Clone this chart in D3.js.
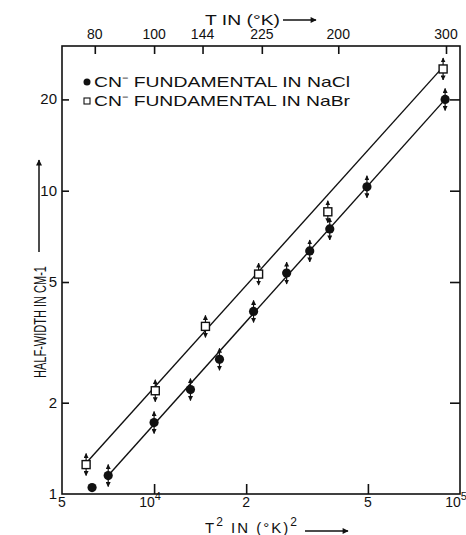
<!DOCTYPE html>
<html lang="en">
<head>
<meta charset="UTF-8">
<title>CN- fundamental half-width</title>
<style>
  body { margin: 0; background: #fff; }
  svg text { font-family: "Liberation Sans", Arial, sans-serif; fill: #111; }
</style>
</head>
<body>
<div id="chart"></div>
<script src="https://d3js.org/d3.v7.min.js"></script>
<script>
// CN- in NaCl (filled circles); bars = 1 when the point carries error arrows
const naclT2   = [6270, 7080, 10000, 13150, 16360, 21140, 27120, 32270, 37520, 49640, 89400];
const naclW    = [1.05, 1.15, 1.72, 2.21, 2.78, 4.0, 5.35, 6.33, 7.48, 10.3, 20.0];
const naclBars = [0, 1, 1, 1, 1, 1, 1, 1, 1, 1, 1];

// CN- in NaBr (open squares)
const nabrT2 = [5995, 10090, 14720, 21960, 36980, 88060];
const nabrW  = [1.25, 2.19, 3.57, 5.31, 8.52, 25.2];

// straight fit lines drawn through each set
const naclFitT2 = [7080, 91400];
const naclFitW  = [1.15, 20.5];
const nabrFitT2 = [6100, 88000];
const nabrFitW  = [1.29, 25.6];

// axis ticks
const bottomTicks  = [5000, 10000, 20000, 50000, 100000];
const bottomLabels = [["5", ""], ["10", "4"], ["2", ""], ["5", ""], ["10", "5"]];
const yTicks  = [1, 2, 5, 10, 20];
const yLabels = ["1", "2", "5", "10", "20"];
const topT      = [80, 100, 120, 150, 200, 300];
const topLabels = ["80", "100", "144", "225", "200", "300"];

const legendNames = ["CN\u207B FUNDAMENTAL IN NaCl", "CN\u207B FUNDAMENTAL IN NaBr"];

const W = 466, H = 535;
const m = { left: 62, right: 6, top: 46, bottom: 41 };

const svg = d3.select("#chart").append("svg")
    .attr("width", W).attr("height", H);

const x = d3.scaleLog().domain([5000, 100000]).range([m.left, W - m.right]);
const y = d3.scaleLog().domain([1, 30]).range([H - m.bottom, m.top]);

// frame
svg.append("rect")
    .attr("x", x.range()[0]).attr("y", y.range()[1])
    .attr("width", x.range()[1] - x.range()[0])
    .attr("height", y.range()[0] - y.range()[1])
    .attr("fill", "none").attr("stroke", "#111").attr("stroke-width", 1.6);

function styleAxis(g) {
    g.select(".domain").remove();
    g.selectAll(".tick line").attr("stroke", "#111").attr("stroke-width", 1.6);
    g.selectAll(".tick text").remove();
}

svg.append("g").attr("transform", `translate(0,${y.range()[0]})`)
    .call(d3.axisBottom(x).tickValues(bottomTicks.slice(1, -1)).tickSize(-10).tickSizeOuter(0))
    .call(styleAxis);

svg.append("g").attr("transform", `translate(0,${y.range()[1]})`)
    .call(d3.axisTop(x).tickValues(topT.map(t => t * t)).tickSize(-8).tickSizeOuter(0))
    .call(styleAxis);

svg.append("g").attr("transform", `translate(${x.range()[0]},0)`)
    .call(d3.axisLeft(y).tickValues(yTicks.slice(1)).tickSize(-7).tickSizeOuter(0))
    .call(styleAxis);

svg.append("g").attr("transform", `translate(${x.range()[1]},0)`)
    .call(d3.axisRight(y).tickValues(yTicks.slice(1)).tickSize(-10).tickSizeOuter(0))
    .call(styleAxis);

// bottom tick labels
const bl = svg.append("g").selectAll("text").data(bottomTicks).join("text")
    .attr("x", (d, i) => x(d) - (bottomLabels[i][1] ? 4 : 0))
    .attr("y", H - m.bottom + 13)
    .attr("text-anchor", "middle")
    .style("font-size", "14px");
bl.append("tspan").text((d, i) => bottomLabels[i][0]);
bl.append("tspan").attr("dy", -7).style("font-size", "11px").text((d, i) => bottomLabels[i][1]);

// left tick labels
svg.append("g").selectAll("text").data(yTicks).join("text")
    .attr("x", m.left - 5)
    .attr("y", d => y(d) + 5)
    .attr("text-anchor", "end")
    .style("font-size", "15px")
    .text((d, i) => yLabels[i]);

// top tick labels
svg.append("g").selectAll("text").data(topT).join("text")
    .attr("x", d => x(d * d))
    .attr("y", 39)
    .attr("text-anchor", "middle")
    .style("font-size", "14px")
    .text((d, i) => topLabels[i]);

// arrow marker for titles
const defs = svg.append("defs");
defs.append("marker").attr("id", "head").attr("viewBox", "0 0 10 10")
    .attr("refX", 9).attr("refY", 5).attr("markerWidth", 8).attr("markerHeight", 6)
    .attr("markerUnits", "userSpaceOnUse").attr("orient", "auto")
    .append("path").attr("d", "M0,0L10,5L0,10Z").attr("fill", "#111");
defs.append("marker").attr("id", "tip").attr("viewBox", "0 0 10 10")
    .attr("refX", 9).attr("refY", 5).attr("markerWidth", 5).attr("markerHeight", 5)
    .attr("markerUnits", "userSpaceOnUse").attr("orient", "auto")
    .append("path").attr("d", "M0,0L10,5L0,10Z").attr("fill", "#111");

// top title
svg.append("text").attr("x", 205).attr("y", 25)
    .attr("textLength", 75).attr("lengthAdjust", "spacingAndGlyphs")
    .style("font-size", "15px")
    .text("T  IN (\u00B0K)");
svg.append("line").attr("x1", 283).attr("x2", 316).attr("y1", 20).attr("y2", 20)
    .attr("stroke", "#111").attr("stroke-width", 1.5).attr("marker-end", "url(#head)");

// bottom title
const bt = svg.append("text").attr("x", 205).attr("y", 533)
    .style("font-size", "15px").style("letter-spacing", "2px");
bt.append("tspan").text("T");
bt.append("tspan").attr("dy", -7).style("font-size", "12px").text("2");
bt.append("tspan").attr("dy", 7).text("  IN (\u00B0K)");
bt.append("tspan").attr("dy", -7).style("font-size", "12px").text("2");
svg.append("line").attr("x1", 305).attr("x2", 348).attr("y1", 531).attr("y2", 531)
    .attr("stroke", "#111").attr("stroke-width", 1.5).attr("marker-end", "url(#head)");

// y title
svg.append("text")
    .attr("transform", "translate(46,322) rotate(-90)")
    .attr("text-anchor", "middle")
    .attr("textLength", 112).attr("lengthAdjust", "spacingAndGlyphs")
    .style("font-size", "17px")
    .text("HALF-WIDTH IN CM-1");
svg.append("line").attr("x1", 39).attr("x2", 39).attr("y1", 252).attr("y2", 160)
    .attr("stroke", "#111").attr("stroke-width", 1.5).attr("marker-end", "url(#head)");

// fit lines
const line = d3.line().x(d => x(d[0])).y(d => y(d[1]));
[[naclFitT2, naclFitW], [nabrFitT2, nabrFitW]].forEach(([xs, ys]) => {
    svg.append("path")
        .attr("d", line(xs.map((v, i) => [v, ys[i]])))
        .attr("fill", "none").attr("stroke", "#111").attr("stroke-width", 1.4);
});

// error arrows
function arrows(xs, ys, flags) {
    const g = svg.append("g");
    xs.forEach((v, i) => {
        if (flags && !flags[i]) return;
        [-1, 1].forEach(s => {
            g.append("line")
                .attr("x1", x(v)).attr("x2", x(v))
                .attr("y1", y(ys[i])).attr("y2", y(ys[i]) + s * 11)
                .attr("stroke", "#111").attr("stroke-width", 1.2)
                .attr("marker-end", "url(#tip)");
        });
    });
}
arrows(naclT2, naclW, naclBars);
arrows(nabrT2, nabrW, null);

// NaCl points
svg.append("g").selectAll("circle").data(naclT2).join("circle")
    .attr("cx", d => x(d)).attr("cy", (d, i) => y(naclW[i]))
    .attr("r", 4.6).attr("fill", "#111");

// NaBr points
svg.append("g").selectAll("rect").data(nabrT2).join("rect")
    .attr("x", d => x(d) - 4).attr("y", (d, i) => y(nabrW[i]) - 4)
    .attr("width", 8).attr("height", 8)
    .attr("fill", "#fff").attr("stroke", "#111").attr("stroke-width", 1.4);

// legend
const lg = svg.append("g").selectAll("g").data(legendNames).join("g")
    .attr("transform", (d, i) => `translate(87,${82 + i * 19})`);
lg.filter((d, i) => i === 0).append("circle").attr("r", 3.5).attr("fill", "#111");
lg.filter((d, i) => i === 1).append("rect")
    .attr("x", -3).attr("y", -3).attr("width", 6).attr("height", 6)
    .attr("fill", "#fff").attr("stroke", "#111").attr("stroke-width", 1.1);
lg.append("text").attr("x", 7).attr("y", 5)
    .attr("textLength", 256).attr("lengthAdjust", "spacingAndGlyphs")
    .style("font-size", "15px")
    .text(d => d);
</script>
</body>
</html>
